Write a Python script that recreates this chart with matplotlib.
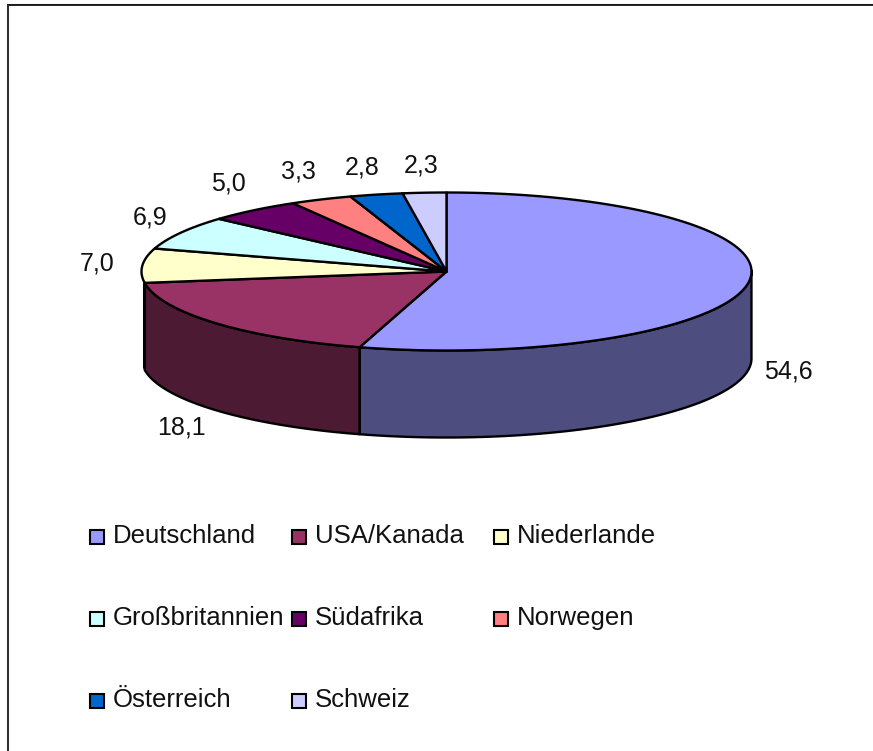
import numpy as np
import matplotlib
matplotlib.use("Agg")
import matplotlib.pyplot as plt
from matplotlib.patches import Polygon, Rectangle

plt.rcParams['font.family'] = ['Liberation Sans', 'DejaVu Sans']

laender = ["Deutschland", "USA/Kanada", "Niederlande", "Großbritannien",
           "Südafrika", "Norwegen", "Österreich", "Schweiz"]
werte = [54.6, 18.1, 7.0, 6.9, 5.0, 3.3, 2.8, 2.3]
werte_text = ["54,6", "18,1", "7,0", "6,9", "5,0", "3,3", "2,8", "2,3"]
farben = ["#9999FF", "#993366", "#FFFFCC", "#CCFFFF",
          "#660066", "#FF8080", "#0066CC", "#CCCCFF"]
farben_seite = ["#4D4D80", "#4D1A33"]

# pie geometry in pixels
cx, cy = 446.5, 271.5
a, b = 305, 79
tiefe = 87

# label centre x, baseline y
label_pos = [(788, 378), (181, 434), (97, 270), (150.5, 225),
             (228, 191), (298.5, 179), (362, 175), (421, 173)]
# legend box left x, box top y
legend_pos = [(89, 529), (291, 529), (493, 529),
              (89, 611), (291, 611), (493, 611),
              (89, 693), (291, 693)]

fig = plt.figure(figsize=(8.73, 7.51), dpi=100)
ax = fig.add_axes([0, 0, 1, 1])
ax.set_xlim(0, 873)
ax.set_ylim(751, 0)
ax.axis("off")

# only top and left edge of the frame are in the picture
ax.plot([7, 873], [3.9, 3.9], color="#A0A0A0", lw=0.8, solid_capstyle="butt")
ax.plot([7, 873], [5.2, 5.2], color="black", lw=1.2, solid_capstyle="butt")
ax.plot([7.6, 7.6], [4.5, 751], color="#303030", lw=1.5, solid_capstyle="butt")


def bogen(w1, w2, n=120):
    t = np.radians(np.linspace(w1, w2, n))
    return cx + a * np.cos(t), cy - b * np.sin(t)


grenzen = 90 - 360 * np.cumsum([0] + werte) / sum(werte)

# side wall first, only the two front slices show it
for i in range(2):
    w1, w2 = grenzen[i], grenzen[i + 1]
    x, y = bogen(w1, w2)
    if i == 0:
        keep = np.sin(np.radians(np.linspace(w1, w2, 120))) <= 0.02
        x, y = x[keep], y[keep]
    pts = np.r_[np.c_[x, y], np.c_[x[::-1], y[::-1] + tiefe]]
    ax.add_patch(Polygon(pts, fc=farben_seite[i], ec="black", lw=1.7, joinstyle="round"))
    if i == 1:
        # heavy left edge of the wall
        ax.plot([x[-1] - 0.6, x[-1] - 0.6], [y[-1], y[-1] + tiefe - 2], color="black",
                lw=2.2, solid_capstyle="butt")

for i in range(len(werte)):
    x, y = bogen(grenzen[i], grenzen[i + 1])
    pts = np.r_[[[cx, cy]], np.c_[x, y]]
    ax.add_patch(Polygon(pts, fc=farben[i], ec="black", lw=1.7, joinstyle="round"))

for txt, (px, py) in zip(werte_text, label_pos):
    ax.text(px, py, txt, fontsize=18, ha="center", va="baseline", color="#111111")

for name, farbe, (px, py) in zip(laender, farben, legend_pos):
    ax.add_patch(Rectangle((px + 0.5, py + 0.5), 14, 14, fc=farbe, ec="black", lw=1.5))
    ax.text(px + 24, py + 14, name, fontsize=18.5, ha="left", va="baseline", color="#111111")

fig.savefig("out.png", dpi=100)
